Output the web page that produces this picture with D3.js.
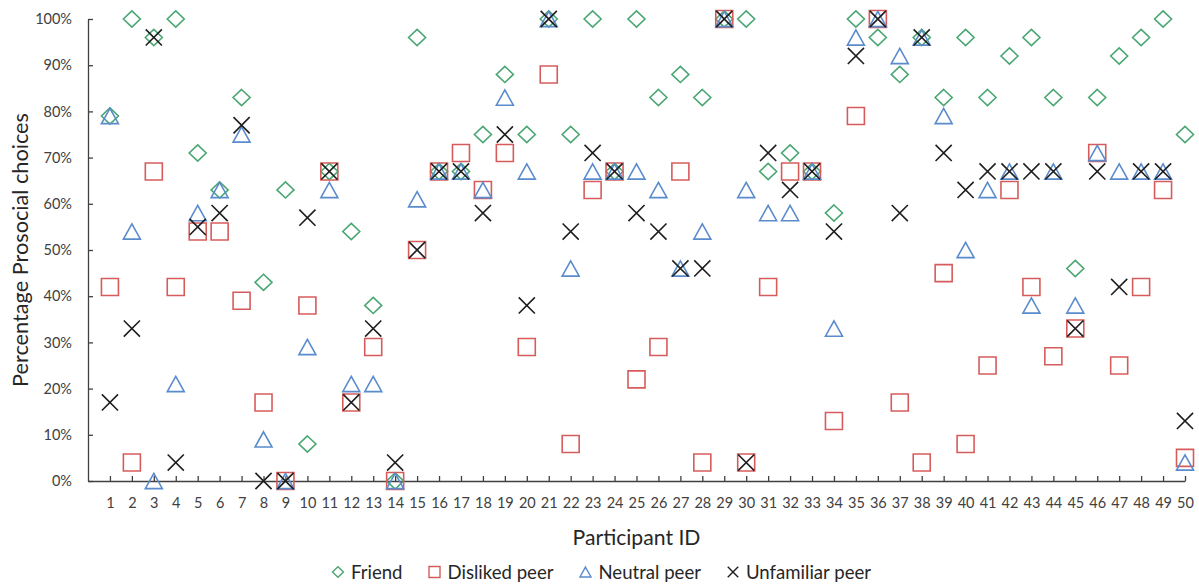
<!DOCTYPE html>
<html>
<head>
<meta charset="utf-8">
<script src="https://cdn.jsdelivr.net/npm/d3@7"></script>
<style>
  body { margin: 0; background: #fff; }
  text { font-family: Lato, "Open Sans", sans-serif; }
</style>
</head>
<body>
<svg id="chart" width="1199" height="584"></svg>
<script>
// participant ids on the x axis
const participants = [1,2,3,4,5,6,7,8,9,10,11,12,13,14,15,16,17,18,19,20,21,22,23,24,25,
  26,27,28,29,30,31,32,33,34,35,36,37,38,39,40,41,42,43,44,45,46,47,48,49,50];

// percentage prosocial choices per partner type
const friend     = [79,100,96,100,71,63,83,43,63,8, 67,54,38,0,96,67,67,75,88,75,
  100,75,100,67,100,83,88,83,100,100, 67,71,67,58,100,96,88,96,83,96, 83,92,96,83,46,83,92,96,100,75];
const disliked   = [42,4,67,42,54,54,39,17,0,38, 67,17,29,0,50,67,71,63,71,29,
  88,8,63,67,22,29,67,4,100,4, 42,67,67,13,79,100,17,4,45,8, 25,63,42,27,33,71,25,42,63,5];
const neutral    = [79,54,0,21,58,63,75,9,0,29, 63,21,21,0,61,67,67,63,83,67,
  100,46,67,67,67,63,46,54,100,63, 58,58,67,33,96,100,92,96,79,50, 63,67,38,67,38,71,67,67,67,4];
const unfamiliar = [17,33,96,4,55,58,77,0,0,57, 67,17,33,4,50,67,67,58,75,38,
  100,54,71,67,58,54,46,46,100,4, 71,63,67,54,92,100,58,96,71,63, 67,67,67,67,33,67,42,67,67,13];

const yTicks = [0,0.1,0.2,0.3,0.4,0.5,0.6,0.7,0.8,0.9,1];

const series = [
  { name: "Friend",          values: friend,     color: "#4aa673", shape: "diamond" },
  { name: "Disliked peer",   values: disliked,   color: "#d65c5c", shape: "square" },
  { name: "Neutral peer",    values: neutral,    color: "#5a8bcd", shape: "triangle" },
  { name: "Unfamiliar peer", values: unfamiliar, color: "#1e1e1e", shape: "cross" }
];

const svg = d3.select("#chart");
const margin = { left: 88, right: 14, top: 19, bottom: 103 };
const W = 1199, H = 584;

const x = d3.scaleLinear().domain([0, 50]).range([margin.left, W - margin.right]);
const y = d3.scaleLinear().domain([0, 1]).range([H - margin.bottom, margin.top]);

// marker paths around (0,0)
function markerPath(shape, s) {
  const h = s / 2;
  if (shape === "diamond") return `M0,${-h*0.95}L${h},0L0,${h*0.95}L${-h},0Z`;
  if (shape === "square") return `M${-h},${-h}H${h}V${h}H${-h}Z`;
  if (shape === "triangle") return `M0,${-h*0.9}L${h},${h*0.9}L${-h},${h*0.9}Z`;
  return `M${-h*0.95},${-h*0.95}L${h*0.95},${h*0.95}M${h*0.95},${-h*0.95}L${-h*0.95},${h*0.95}`;
}

// pick a font size so the text comes out about as wide as in the original
function fitFont(sel, base, target) {
  sel.style("font-size", base + "px");
  const w = sel.node().getComputedTextLength();
  sel.style("font-size", (base * target / w).toFixed(2) + "px");
}

// axes
const yAxis = svg.append("g")
  .attr("transform", `translate(${margin.left},0)`)
  .call(d3.axisLeft(y).tickValues(yTicks).tickFormat(d3.format(".0%"))
    .tickSizeInner(-5).tickSizeOuter(0).tickPadding(16));

const xAxis = svg.append("g")
  .attr("transform", `translate(0,${y(0)})`)
  .call(d3.axisBottom(x).tickValues(participants).tickFormat(d => d)
    .tickSizeInner(-5).tickSizeOuter(0).tickPadding(17));

[yAxis, xAxis].forEach(g => {
  g.select(".domain").attr("stroke", "#404040").attr("stroke-width", 1.3);
  g.selectAll(".tick line").attr("stroke", "#404040").attr("stroke-width", 1.3);
  g.selectAll(".tick text").attr("fill", "#404040").style("font-size", "14.5px");
});

// axis titles
const yTitle = svg.append("text")
  .attr("transform", `translate(28,${(y(0) + y(1)) / 2}) rotate(-90)`)
  .attr("text-anchor", "middle")
  .attr("fill", "#262626")
  .text("Percentage Prosocial choices");
fitFont(yTitle, 20, 274);

const xTitle = svg.append("text")
  .attr("x", (x(0) + x(50)) / 2)
  .attr("y", 545)
  .attr("text-anchor", "middle")
  .attr("fill", "#262626")
  .text("Participant ID");
fitFont(xTitle, 20, 128);

// markers, one group per series
series.forEach(s => {
  svg.append("g")
    .selectAll("path")
    .data(participants.map((p, i) => ({ p: p, v: s.values[i] / 100 })))
    .join("path")
    .attr("transform", d => `translate(${x(d.p)},${y(d.v)})`)
    .attr("d", markerPath(s.shape, 17))
    .attr("fill", "none")
    .attr("stroke", s.color)
    .attr("stroke-width", 1.6);
});

// legend
const legend = svg.append("g");
const labels = series.map(s => legend.append("text")
  .attr("dy", "0.35em")
  .attr("fill", "#262626")
  .style("font-size", "18px")
  .text(s.name));
// total label width in the original is about 385px
const sum18 = d3.sum(labels, t => t.node().getComputedTextLength());
const legendFont = 18 * 385 / sum18;
let lx = 0;
series.forEach((s, i) => {
  const t = labels[i].style("font-size", legendFont.toFixed(2) + "px").attr("x", lx + 13);
  legend.append("path")
    .attr("transform", `translate(${lx},0)`)
    .attr("d", markerPath(s.shape, 11))
    .attr("fill", "none")
    .attr("stroke", s.color)
    .attr("stroke-width", 1.4);
  lx += 13 + t.node().getComputedTextLength() + 32;
});
const legendW = lx - 32;
legend.attr("transform", `translate(${W / 2 - legendW / 2 + 5},572)`);
</script>
</body>
</html>
